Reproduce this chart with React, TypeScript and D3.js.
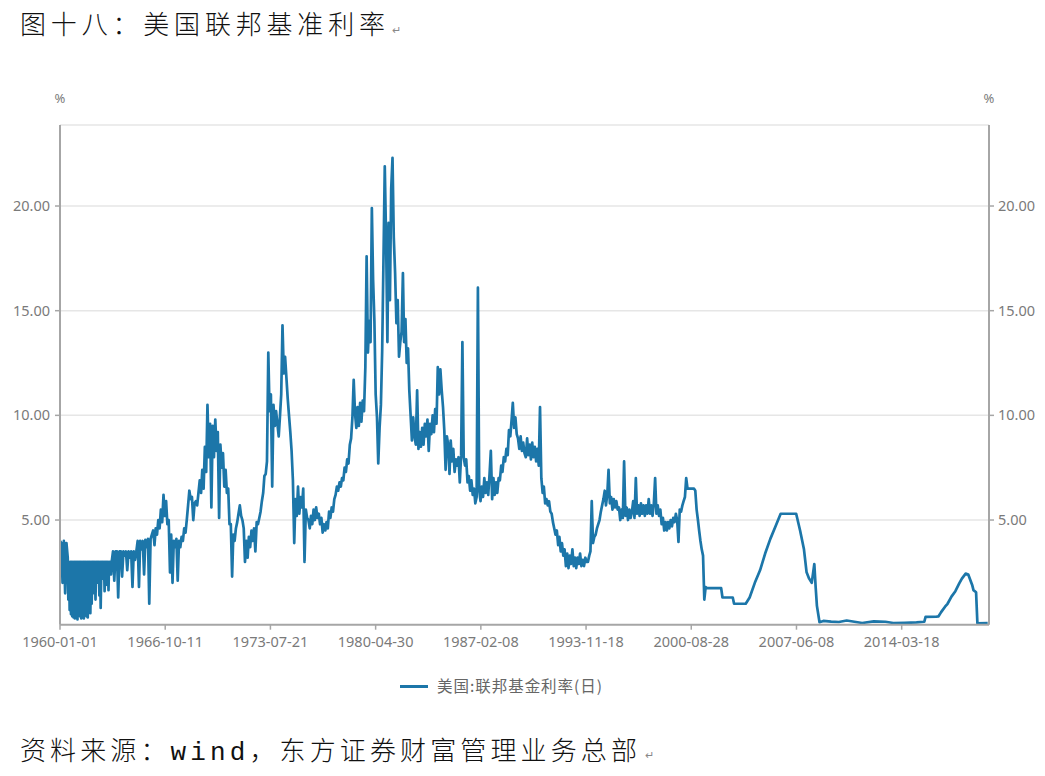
import React from "react";
import * as d3 from "d3";

// ---------- text ----------
const titleText = "图十八：美国联邦基准利率";
const sourcePrefix = "资料来源：";
const sourceWind = "wind";
const sourceSuffix = "，东方证券财富管理业务总部";
const legendLabel = "美国:联邦基金利率(日)";
const unitLabel = "%";

// ---------- axes ----------
const yTicks = [5, 10, 15, 20];
const yMax = 23.87;
const xTickLabels = [
  "1960-01-01", "1966-10-11", "1973-07-21", "1980-04-30", "1987-02-08",
  "1993-11-18", "2000-08-28", "2007-06-08", "2014-03-18",
];
const xDomain = ["1960-01-01", "2019-11-01"];

// ---------- series: US federal funds rate (daily) ----------
const fedFunds: [string, number][] = [
  ["1960-01", 4.0], ["1960-02", 3.9], ["1960-03", 2.0], ["1960-04", 4.0], ["1960-05", 1.5], ["1960-06", 3.9],
  ["1960-07", 3.2], ["1960-07-15", 1.2], ["1960-08", 3.0], ["1960-08-15", 0.7], ["1960-09", 3.0], ["1960-09-15", 0.5],
  ["1960-10", 3.0], ["1960-10-15", 0.4], ["1960-11", 3.0], ["1960-11-15", 0.35], ["1960-12", 3.0], ["1960-12-15", 0.3],
  ["1961-01", 3.0], ["1961-01-15", 0.5], ["1961-02", 3.0], ["1961-02-15", 0.25], ["1961-03", 3.0], ["1961-03-15", 0.6],
  ["1961-04", 3.0], ["1961-04-15", 0.4], ["1961-05", 3.0], ["1961-05-15", 0.3], ["1961-06", 3.0], ["1961-06-15", 0.5],
  ["1961-07", 3.0], ["1961-07-15", 0.3], ["1961-08", 3.0], ["1961-08-15", 0.6], ["1961-09", 3.0], ["1961-09-15", 0.4],
  ["1961-10", 3.0], ["1961-10-15", 0.35], ["1961-11", 3.0], ["1961-11-15", 0.7], ["1961-12", 3.0], ["1961-12-15", 0.55],
  ["1962-01", 3.0], ["1962-01-15", 1.0], ["1962-02", 3.0], ["1962-02-15", 1.5], ["1962-03", 3.0], ["1962-03-15", 2.2],
  ["1962-04", 3.0], ["1962-04-15", 1.2], ["1962-05", 3.0], ["1962-05-15", 2.4], ["1962-06", 3.0], ["1962-06-15", 2.0],
  ["1962-07", 3.0], ["1962-07-15", 1.4], ["1962-08", 3.0], ["1962-08-15", 0.8], ["1962-09", 3.0], ["1962-09-15", 2.5],
  ["1962-10", 3.0], ["1962-10-15", 2.2], ["1962-11", 3.0], ["1962-11-15", 1.6], ["1962-12", 3.0], ["1962-12-15", 1.9],
  ["1963-01", 3.0], ["1963-01-15", 2.6], ["1963-02", 3.0], ["1963-02-15", 1.65], ["1963-03", 3.0], ["1963-03-15", 2.7],
  ["1963-04", 3.0], ["1963-04-15", 2.4], ["1963-05", 3.0], ["1963-06", 3.5],
  ["1963-07", 2.1], ["1963-08", 3.5], ["1963-09", 3.5], ["1963-10", 1.3], ["1963-11", 3.5], ["1963-12", 3.5],
  ["1964-01", 2.3], ["1964-02", 3.5], ["1964-03", 3.3], ["1964-04", 3.5], ["1964-05", 2.6], ["1964-06", 3.5],
  ["1964-07", 3.2], ["1964-08", 3.5], ["1964-09", 1.8], ["1964-10", 3.5], ["1964-11", 3.1], ["1964-12", 3.5],
  ["1965-01", 4.0], ["1965-02", 1.8], ["1965-03", 4.0], ["1965-04", 3.6], ["1965-05", 4.0], ["1965-06", 2.4],
  ["1965-07", 4.05], ["1965-08", 3.7], ["1965-09", 4.1], ["1965-10", 1.0], ["1965-11", 4.1], ["1965-12", 4.3],
  ["1966-01", 4.5], ["1966-02", 3.8], ["1966-03", 4.6], ["1966-04", 4.3], ["1966-05", 5.0], ["1966-06", 4.6],
  ["1966-07", 5.5], ["1966-08", 4.9], ["1966-09", 6.2], ["1966-10", 5.2], ["1966-11", 5.9], ["1966-12", 4.8],
  ["1967-01", 5.0], ["1967-02", 2.5], ["1967-03", 4.3], ["1967-04", 2.0], ["1967-05", 4.0], ["1967-06", 3.7],
  ["1967-07", 4.1], ["1967-08", 2.1], ["1967-09", 4.0], ["1967-10", 3.7], ["1967-11", 4.2], ["1967-12", 4.0],
  ["1968-01", 4.6], ["1968-02", 4.4], ["1968-03", 5.0], ["1968-04", 5.7], ["1968-05", 6.4], ["1968-06", 6.0],
  ["1968-07", 6.1], ["1968-08", 5.0], ["1968-09", 5.8], ["1968-10", 5.9], ["1968-11", 5.7], ["1968-12", 6.3],
  ["1969-01", 6.9], ["1969-02", 6.3], ["1969-03", 7.4], ["1969-04", 6.5], ["1969-05", 8.5], ["1969-06", 7.3],
  ["1969-07", 10.5], ["1969-08", 8.0], ["1969-09", 9.6], ["1969-10", 5.6], ["1969-11", 9.5], ["1969-12", 8.0],
  ["1970-01", 9.8], ["1970-02", 8.3], ["1970-03", 9.2], ["1970-04", 5.1], ["1970-05", 8.6], ["1970-06", 7.5],
  ["1970-07", 8.2], ["1970-08", 6.6], ["1970-09", 7.4], ["1970-10", 6.3], ["1970-11", 6.5], ["1970-12", 4.8],
  ["1971-01", 4.8], ["1971-02", 2.3], ["1971-03", 4.3], ["1971-04", 4.0], ["1971-05", 4.6], ["1971-06", 4.9],
  ["1971-07", 5.3], ["1971-08", 5.7], ["1971-09", 5.2], ["1971-10", 5.0], ["1971-11", 4.6], ["1971-12", 3.0],
  ["1972-01", 4.0], ["1972-02", 3.2], ["1972-03", 4.2], ["1972-04", 3.7], ["1972-05", 4.5], ["1972-06", 4.0],
  ["1972-07", 4.6], ["1972-08", 3.5], ["1972-09", 4.9], ["1972-10", 4.8], ["1972-11", 5.1], ["1972-12", 5.4],
  ["1973-01", 5.9], ["1973-02", 6.3], ["1973-03", 7.1], ["1973-04", 7.2], ["1973-05", 7.8], ["1973-06", 13.0],
  ["1973-07", 10.2], ["1973-08", 11.0], ["1973-09", 6.6], ["1973-10", 10.5], ["1973-11", 9.5], ["1973-12", 10.2],
  ["1974-01", 9.6], ["1974-02", 9.0], ["1974-03", 9.9], ["1974-04", 11.0], ["1974-05", 14.3], ["1974-06", 12.0],
  ["1974-07", 12.8], ["1974-08", 11.8], ["1974-09", 10.8], ["1974-10", 10.0], ["1974-11", 9.2], ["1974-12", 8.3],
  ["1975-01", 6.9], ["1975-02", 3.9], ["1975-03", 6.0], ["1975-04", 5.2], ["1975-05", 6.6], ["1975-06", 5.3],
  ["1975-07", 6.1], ["1975-08", 5.6], ["1975-09", 6.5], ["1975-10", 3.0], ["1975-11", 5.5], ["1975-12", 5.1],
  ["1976-01", 5.0], ["1976-02", 4.6], ["1976-03", 5.2], ["1976-04", 4.8], ["1976-05", 5.5], ["1976-06", 5.0],
  ["1976-07", 5.6], ["1976-08", 5.1], ["1976-09", 5.3], ["1976-10", 4.8], ["1976-11", 5.1], ["1976-12", 4.4],
  ["1977-01", 4.8], ["1977-02", 4.5], ["1977-03", 4.9], ["1977-04", 4.6], ["1977-05", 5.4], ["1977-06", 5.1],
  ["1977-07", 5.6], ["1977-08", 5.4], ["1977-09", 6.0], ["1977-10", 6.2], ["1977-11", 6.6], ["1977-12", 6.4],
  ["1978-01", 6.8], ["1978-02", 6.6], ["1978-03", 7.0], ["1978-04", 6.9], ["1978-05", 7.5], ["1978-06", 7.3],
  ["1978-07", 7.9], ["1978-08", 7.7], ["1978-09", 8.6], ["1978-10", 8.9], ["1978-11", 9.9], ["1978-12", 11.7],
  ["1979-01", 10.1], ["1979-02", 9.4], ["1979-03", 10.4], ["1979-04", 9.5], ["1979-05", 10.6], ["1979-06", 9.7],
  ["1979-07", 10.7], ["1979-08", 10.2], ["1979-09", 12.3], ["1979-10", 17.6], ["1979-11", 13.0], ["1979-12", 14.5],
  ["1980-01", 13.5], ["1980-02", 19.9], ["1980-03", 16.5], ["1980-04", 14.5], ["1980-05", 11.0], ["1980-06", 9.9],
  ["1980-07", 7.7], ["1980-08", 9.4], ["1980-09", 10.5], ["1980-10", 13.1], ["1980-11", 17.5], ["1980-12", 21.9],
  ["1981-01", 18.4], ["1981-02", 13.5], ["1981-03", 19.2], ["1981-04", 15.5], ["1981-05", 20.8], ["1981-06", 22.3],
  ["1981-07", 18.5], ["1981-08", 16.8], ["1981-09", 14.4], ["1981-10", 15.5], ["1981-11", 12.8], ["1981-12", 13.5],
  ["1982-01", 14.0], ["1982-02", 16.8], ["1982-03", 13.5], ["1982-04", 14.6], ["1982-05", 12.5], ["1982-06", 13.2],
  ["1982-07", 11.2], ["1982-08", 10.0], ["1982-09", 8.8], ["1982-10", 9.9], ["1982-11", 9.0], ["1982-12", 8.6],
  ["1983-01", 11.2], ["1983-02", 8.4], ["1983-03", 9.2], ["1983-04", 8.5], ["1983-05", 9.4], ["1983-06", 8.6],
  ["1983-07", 9.6], ["1983-08", 9.0], ["1983-09", 9.8], ["1983-10", 8.3], ["1983-11", 9.6], ["1983-12", 9.1],
  ["1984-01", 10.0], ["1984-02", 9.2], ["1984-03", 10.3], ["1984-04", 9.6], ["1984-05", 12.3], ["1984-06", 11.0],
  ["1984-07", 12.2], ["1984-08", 11.2], ["1984-09", 10.4], ["1984-10", 9.3], ["1984-11", 7.4], ["1984-12", 9.0],
  ["1985-01", 8.6], ["1985-02", 7.2], ["1985-03", 8.8], ["1985-04", 7.8], ["1985-05", 8.4], ["1985-06", 7.3],
  ["1985-07", 7.9], ["1985-08", 7.6], ["1985-09", 8.0], ["1985-10", 6.8], ["1985-11", 8.1], ["1985-12", 13.5],
  ["1986-01", 8.0], ["1986-02", 7.6], ["1986-03", 7.9], ["1986-04", 6.8], ["1986-05", 7.1], ["1986-06", 6.4],
  ["1986-07", 6.9], ["1986-08", 6.2], ["1986-09", 6.5], ["1986-10", 5.8], ["1986-11", 6.1], ["1986-12", 16.1],
  ["1987-01", 6.4], ["1987-02", 5.9], ["1987-03", 6.6], ["1987-04", 6.1], ["1987-05", 7.0], ["1987-06", 6.3],
  ["1987-07", 6.8], ["1987-08", 6.2], ["1987-09", 7.2], ["1987-10", 8.3], ["1987-11", 6.0], ["1987-12", 7.0],
  ["1988-01", 6.2], ["1988-02", 6.8], ["1988-03", 6.3], ["1988-04", 7.0], ["1988-05", 6.9], ["1988-06", 7.6],
  ["1988-07", 7.3], ["1988-08", 8.0], ["1988-09", 7.8], ["1988-10", 8.4], ["1988-11", 8.1], ["1988-12", 9.3],
  ["1989-01", 9.0], ["1989-02", 9.8], ["1989-03", 10.6], ["1989-04", 9.4], ["1989-05", 9.9], ["1989-06", 9.1],
  ["1989-07", 8.9], ["1989-08", 8.4], ["1989-09", 9.0], ["1989-10", 8.3], ["1989-11", 8.7], ["1989-12", 8.2],
  ["1990-01", 8.0], ["1990-02", 8.9], ["1990-03", 8.1], ["1990-04", 8.6], ["1990-05", 7.9], ["1990-06", 8.7],
  ["1990-07", 8.0], ["1990-08", 8.5], ["1990-09", 7.8], ["1990-10", 8.4], ["1990-11", 7.6], ["1990-12", 10.4],
  ["1991-01", 7.0], ["1991-02", 6.3], ["1991-03", 6.6], ["1991-04", 5.8], ["1991-05", 6.0], ["1991-06", 5.7],
  ["1991-07", 5.9], ["1991-08", 5.4], ["1991-09", 5.3], ["1991-10", 4.9], ["1991-11", 4.6], ["1991-12", 4.3],
  ["1992-01", 4.5], ["1992-02", 3.8], ["1992-03", 4.2], ["1992-04", 3.5], ["1992-05", 3.9], ["1992-06", 3.3],
  ["1992-07", 3.6], ["1992-08", 2.8], ["1992-09", 3.4], ["1992-10", 2.7], ["1992-11", 3.3], ["1992-12", 2.9],
  ["1993-01", 3.6], ["1993-02", 2.8], ["1993-03", 3.2], ["1993-04", 2.7], ["1993-05", 3.2], ["1993-06", 2.9],
  ["1993-07", 3.4], ["1993-08", 2.8], ["1993-09", 3.1], ["1993-10", 2.8], ["1993-11", 3.2], ["1993-12", 3.0],
  ["1994-01", 3.0], ["1994-02", 3.3], ["1994-03", 3.5], ["1994-04", 5.9], ["1994-05", 3.9], ["1994-06", 4.2],
  ["1994-07", 4.3], ["1994-08", 4.6], ["1994-09", 4.8], ["1994-10", 5.0], ["1994-11", 5.4], ["1994-12", 5.7],
  ["1995-01", 6.0], ["1995-02", 6.4], ["1995-03", 5.7], ["1995-04", 6.2], ["1995-05", 7.4], ["1995-06", 5.8],
  ["1995-07", 6.1], ["1995-08", 5.5], ["1995-09", 6.0], ["1995-10", 5.6], ["1995-11", 5.9], ["1995-12", 5.5],
  ["1996-01", 5.6], ["1996-02", 5.0], ["1996-03", 5.5], ["1996-04", 5.1], ["1996-05", 7.8], ["1996-06", 5.2],
  ["1996-07", 5.6], ["1996-08", 5.0], ["1996-09", 5.5], ["1996-10", 5.1], ["1996-11", 5.4], ["1996-12", 5.9],
  ["1997-01", 5.1], ["1997-02", 7.0], ["1997-03", 5.3], ["1997-04", 5.7], ["1997-05", 5.2], ["1997-06", 5.8],
  ["1997-07", 5.3], ["1997-08", 5.7], ["1997-09", 5.2], ["1997-10", 5.7], ["1997-11", 5.3], ["1997-12", 6.0],
  ["1998-01", 5.3], ["1998-02", 5.7], ["1998-03", 5.2], ["1998-04", 5.8], ["1998-05", 7.0], ["1998-06", 5.3],
  ["1998-07", 5.7], ["1998-08", 5.2], ["1998-09", 5.5], ["1998-10", 4.8], ["1998-11", 5.1], ["1998-12", 4.5],
  ["1999-01", 4.9], ["1999-02", 4.5], ["1999-03", 4.9], ["1999-04", 4.6], ["1999-05", 5.0], ["1999-06", 4.7],
  ["1999-07", 5.1], ["1999-08", 4.9], ["1999-09", 5.3], ["1999-10", 5.0], ["1999-11", 3.95], ["1999-12", 5.5],
  ["2000-01", 5.4], ["2000-02", 5.7], ["2000-03", 5.9], ["2000-04", 6.1], ["2000-05", 7.0], ["2000-06", 6.5],
  ["2000-11", 6.5], ["2000-12", 6.4],
  ["2001-01", 5.5], ["2001-02", 5.0], ["2001-03", 4.5], ["2001-04", 4.0], ["2001-05", 3.6], ["2001-06", 3.3],
  ["2001-07", 1.2], ["2001-08", 1.8], ["2001-09", 1.75],
  ["2002-08", 1.75], ["2002-09", 1.3], ["2003-05", 1.3], ["2003-06", 1.0], ["2004-03", 1.0],
  ["2004-06", 1.3], ["2004-10", 2.0], ["2005-02", 2.6], ["2005-06", 3.4], ["2005-10", 4.1], ["2006-02", 4.7],
  ["2006-06", 5.3], ["2007-06", 5.3], ["2007-09", 4.5], ["2007-12", 3.6], ["2008-02", 2.5], ["2008-04", 2.2],
  ["2008-06", 2.0], ["2008-08", 2.9], ["2008-09", 1.8], ["2008-10", 0.9], ["2008-12", 0.12],
  ["2009-03", 0.18], ["2009-09", 0.15], ["2010-03", 0.13], ["2010-09", 0.2], ["2011-03", 0.14], ["2011-09", 0.08],
  ["2012-06", 0.16], ["2013-03", 0.14], ["2013-09", 0.08], ["2014-06", 0.09], ["2015-03", 0.11], ["2015-09", 0.14],
  ["2015-10", 0.37], ["2016-06", 0.38], ["2016-08", 0.4], ["2016-10", 0.6], ["2017-01", 0.86], ["2017-03", 1.0],
  ["2017-06", 1.34], ["2017-09", 1.6], ["2017-12", 1.97], ["2018-02", 2.2], ["2018-05", 2.44], ["2018-07", 2.4],
  ["2018-10", 1.9], ["2018-11", 1.65], ["2019-01", 1.55], ["2019-02", 0.07], ["2019-10", 0.08],
];

// ---------- layout ----------
const W = 1045;
const H = 776;
const plotLeft = 60;
const plotRight = 989;
const plotTop = 125;
const plotBottom = 624.7;

const lineColor = "#1c76a9";
const axisColor = "#a6a6a6";
const gridColor = "#e6e6e6";
const labelColor = "#7a7a7a";
const numFont = "'Noto Sans', 'Open Sans', sans-serif";
const cjkFont = "'Noto Sans CJK SC', 'Noto Sans', sans-serif";

export default function App() {
  const parseDay = d3.timeParse("%Y-%m-%d");
  const parseMonth = d3.timeParse("%Y-%m");
  const parseAny = (s: string) => (s.length === 7 ? parseMonth(s) : parseDay(s)) as Date;

  const x = d3
    .scaleTime()
    .domain([parseAny(xDomain[0]), parseAny(xDomain[1])])
    .range([plotLeft, plotRight]);
  const y = d3.scaleLinear().domain([0, yMax]).range([plotBottom, plotTop]);

  const points = fedFunds.map(([d, v]) => ({ date: parseAny(d), value: v }));
  const linePath =
    d3
      .line<{ date: Date; value: number }>()
      .x((d) => x(d.date))
      .y((d) => y(d.value))(points) || "";

  const xTicks = xTickLabels.map((s) => ({ label: s, pos: x(parseAny(s)) }));

  return (
    <svg
      width={W}
      height={H}
      style={{ position: "absolute", left: 0, top: 0, background: "#fff" }}
    >
      <rect x={0} y={0} width={W} height={H} fill="#fff" />

      {/* title */}
      <text
        x={20}
        y={34}
        fontSize={26}
        fontFamily={cjkFont}
        fontWeight={300}
        fill="#111"
        textLength={365}
        lengthAdjust="spacing"
      >
        {titleText}
      </text>
      <text x={392} y={34} fontSize={11} fill="#888" fontFamily={numFont}>
        ↵
      </text>

      {/* gridlines */}
      {[...yTicks, yMax].map((t) => (
        <line
          key={"g" + t}
          x1={plotLeft}
          x2={plotRight}
          y1={y(t)}
          y2={y(t)}
          stroke={gridColor}
          strokeWidth={1.5}
        />
      ))}

      {/* unit labels */}
      <text x={plotLeft} y={103} fontSize={13} fill={labelColor} textAnchor="middle" fontFamily={numFont}>
        {unitLabel}
      </text>
      <text x={plotRight} y={103} fontSize={13} fill={labelColor} textAnchor="middle" fontFamily={numFont}>
        {unitLabel}
      </text>

      {/* y ticks left & right */}
      {yTicks.map((t) => (
        <g key={"yt" + t}>
          <line x1={plotLeft - 5} x2={plotLeft} y1={y(t)} y2={y(t)} stroke={axisColor} strokeWidth={1.5} />
          <text
            x={plotLeft - 10}
            y={y(t)}
            dy="0.35em"
            fontSize={14.5}
            fill={labelColor}
            textAnchor="end"
            fontFamily={numFont}
          >
            {t.toFixed(2)}
          </text>
          <line x1={plotRight} x2={plotRight + 5} y1={y(t)} y2={y(t)} stroke={axisColor} strokeWidth={1.5} />
          <text
            x={plotRight + 9}
            y={y(t)}
            dy="0.35em"
            fontSize={14.5}
            fill={labelColor}
            textAnchor="start"
            fontFamily={numFont}
          >
            {t.toFixed(2)}
          </text>
        </g>
      ))}

      {/* series */}
      <path d={linePath} fill="none" stroke={lineColor} strokeWidth={2.7} strokeLinejoin="round" />

      {/* axes */}
      <line x1={plotLeft} x2={plotLeft} y1={plotTop} y2={plotBottom} stroke={axisColor} strokeWidth={2} />
      <line x1={plotRight} x2={plotRight} y1={plotTop} y2={plotBottom} stroke={axisColor} strokeWidth={2} />
      <line x1={plotLeft} x2={plotRight} y1={plotBottom} y2={plotBottom} stroke={axisColor} strokeWidth={2} />

      {/* x ticks */}
      {xTicks.map((t) => (
        <g key={t.label}>
          <line x1={t.pos} x2={t.pos} y1={plotBottom} y2={plotBottom + 5} stroke={axisColor} strokeWidth={1.5} />
          <text
            x={t.pos}
            y={647}
            fontSize={14.5}
            fill={labelColor}
            textAnchor="middle"
            fontFamily={numFont}
          >
            {t.label}
          </text>
        </g>
      ))}

      {/* legend */}
      <line x1={400} x2={428} y1={686.5} y2={686.5} stroke={lineColor} strokeWidth={3} />
      <text
        x={437}
        y={692}
        fontSize={15.5}
        fill="#666"
        fontFamily={cjkFont}
        textLength={165}
        lengthAdjust="spacing"
      >
        {legendLabel}
      </text>

      {/* source */}
      <text
        x={20}
        y={760}
        fontSize={26}
        fontFamily={cjkFont}
        fontWeight={300}
        fill="#111"
        textLength={617}
        lengthAdjust="spacing"
      >
        {sourcePrefix}
        <tspan fontFamily="'Liberation Mono', monospace">{sourceWind}</tspan>
        {sourceSuffix}
      </text>
      <text x={645} y={759} fontSize={11} fill="#888" fontFamily={numFont}>
        ↵
      </text>
    </svg>
  );
}
